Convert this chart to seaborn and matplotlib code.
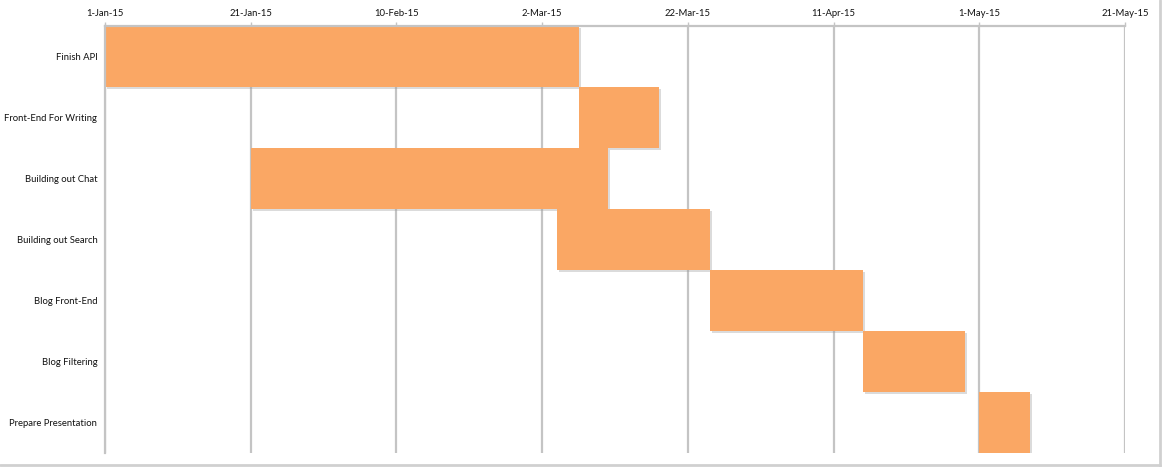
import numpy as np
import pandas as pd
import matplotlib
matplotlib.use("Agg")
import matplotlib.pyplot as plt
import matplotlib.patheffects as pe
from matplotlib.lines import Line2D
import seaborn as sns

# %%
tasks = ["Finish API", "Front-End For Writing", "Building out Chat",
         "Building out Search", "Blog Front-End", "Blog Filtering",
         "Prepare Presentation"]
start = ["2015-01-01", "2015-03-07", "2015-01-21", "2015-03-04",
         "2015-03-25", "2015-04-15", "2015-05-01"]
end = ["2015-03-07", "2015-03-18", "2015-03-11", "2015-03-25",
       "2015-04-15", "2015-04-29", "2015-05-08"]
tick_dates = ["2015-01-01", "2015-01-21", "2015-02-10", "2015-03-02",
              "2015-03-22", "2015-04-11", "2015-05-01", "2015-05-21"]
tick_labels = ["1-Jan-15", "21-Jan-15", "10-Feb-15", "2-Mar-15",
               "22-Mar-15", "11-Apr-15", "1-May-15", "21-May-15"]

# %%
t0 = pd.Timestamp("2015-01-01")
df = pd.DataFrame({"task": tasks,
                   "start": (pd.to_datetime(start) - t0).days,
                   "end": (pd.to_datetime(end) - t0).days})
df["dur"] = df["end"] - df["start"]
ticks = (pd.to_datetime(tick_dates) - t0).days

sns.set_style("white")
plt.rcParams["font.family"] = ["Lato", "DejaVu Sans"]

fig = plt.figure(figsize=(11.63, 4.67), dpi=100)
ax = fig.add_axes([105 / 1163, 14 / 467, 1020 / 1163, 427 / 467])

grid_c = "#C4C4C4"
for t in ticks:
    ax.axvline(t, color=grid_c, lw=1.6, zorder=0)

sns.barplot(data=df, x="dur", y="task", left=df["start"].values,
            color="#FAA764", saturation=1, width=1.0, orient="h",
            order=tasks, ax=ax, zorder=2)
for p in ax.patches:
    p.set_linewidth(0)
    p.set_path_effects([pe.SimplePatchShadow(offset=(1.5, -1.5), shadow_rgbFace="#999999", alpha=0.35),
                        pe.Normal()])

ax.set_xlim(0, ticks[-1])
ax.set_ylim(len(tasks) - 0.5, -0.5)
ax.xaxis.tick_top()
ax.set_xticks(ticks)
ax.set_xticklabels(tick_labels, fontsize=6.8, color="#111111")
ax.tick_params(axis="x", length=3, width=1, color=grid_c, pad=3)
ax.set_yticks(np.arange(len(tasks)))
ax.set_yticklabels(tasks, fontsize=6.8, color="#111111")
ax.set_yticks(np.arange(len(tasks) + 1) - 0.5, minor=True)
ax.tick_params(axis="y", which="major", length=0, pad=5.5)
ax.tick_params(axis="y", which="minor", length=4, width=1, color=grid_c)
ax.set_xlabel("")
ax.set_ylabel("")

for s in ["right", "bottom"]:
    ax.spines[s].set_visible(False)
for s in ["top", "left"]:
    ax.spines[s].set_color(grid_c)
    ax.spines[s].set_linewidth(1.6)

# spreadsheet cell borders around the chart
fig.add_artist(Line2D([1160 / 1163, 1160 / 1163], [0, 1], color="#D0D0D0", lw=2))
fig.add_artist(Line2D([0, 1160 / 1163], [2 / 467, 2 / 467], color="#D0D0D0", lw=2))

fig.savefig("out.png", dpi=100)
